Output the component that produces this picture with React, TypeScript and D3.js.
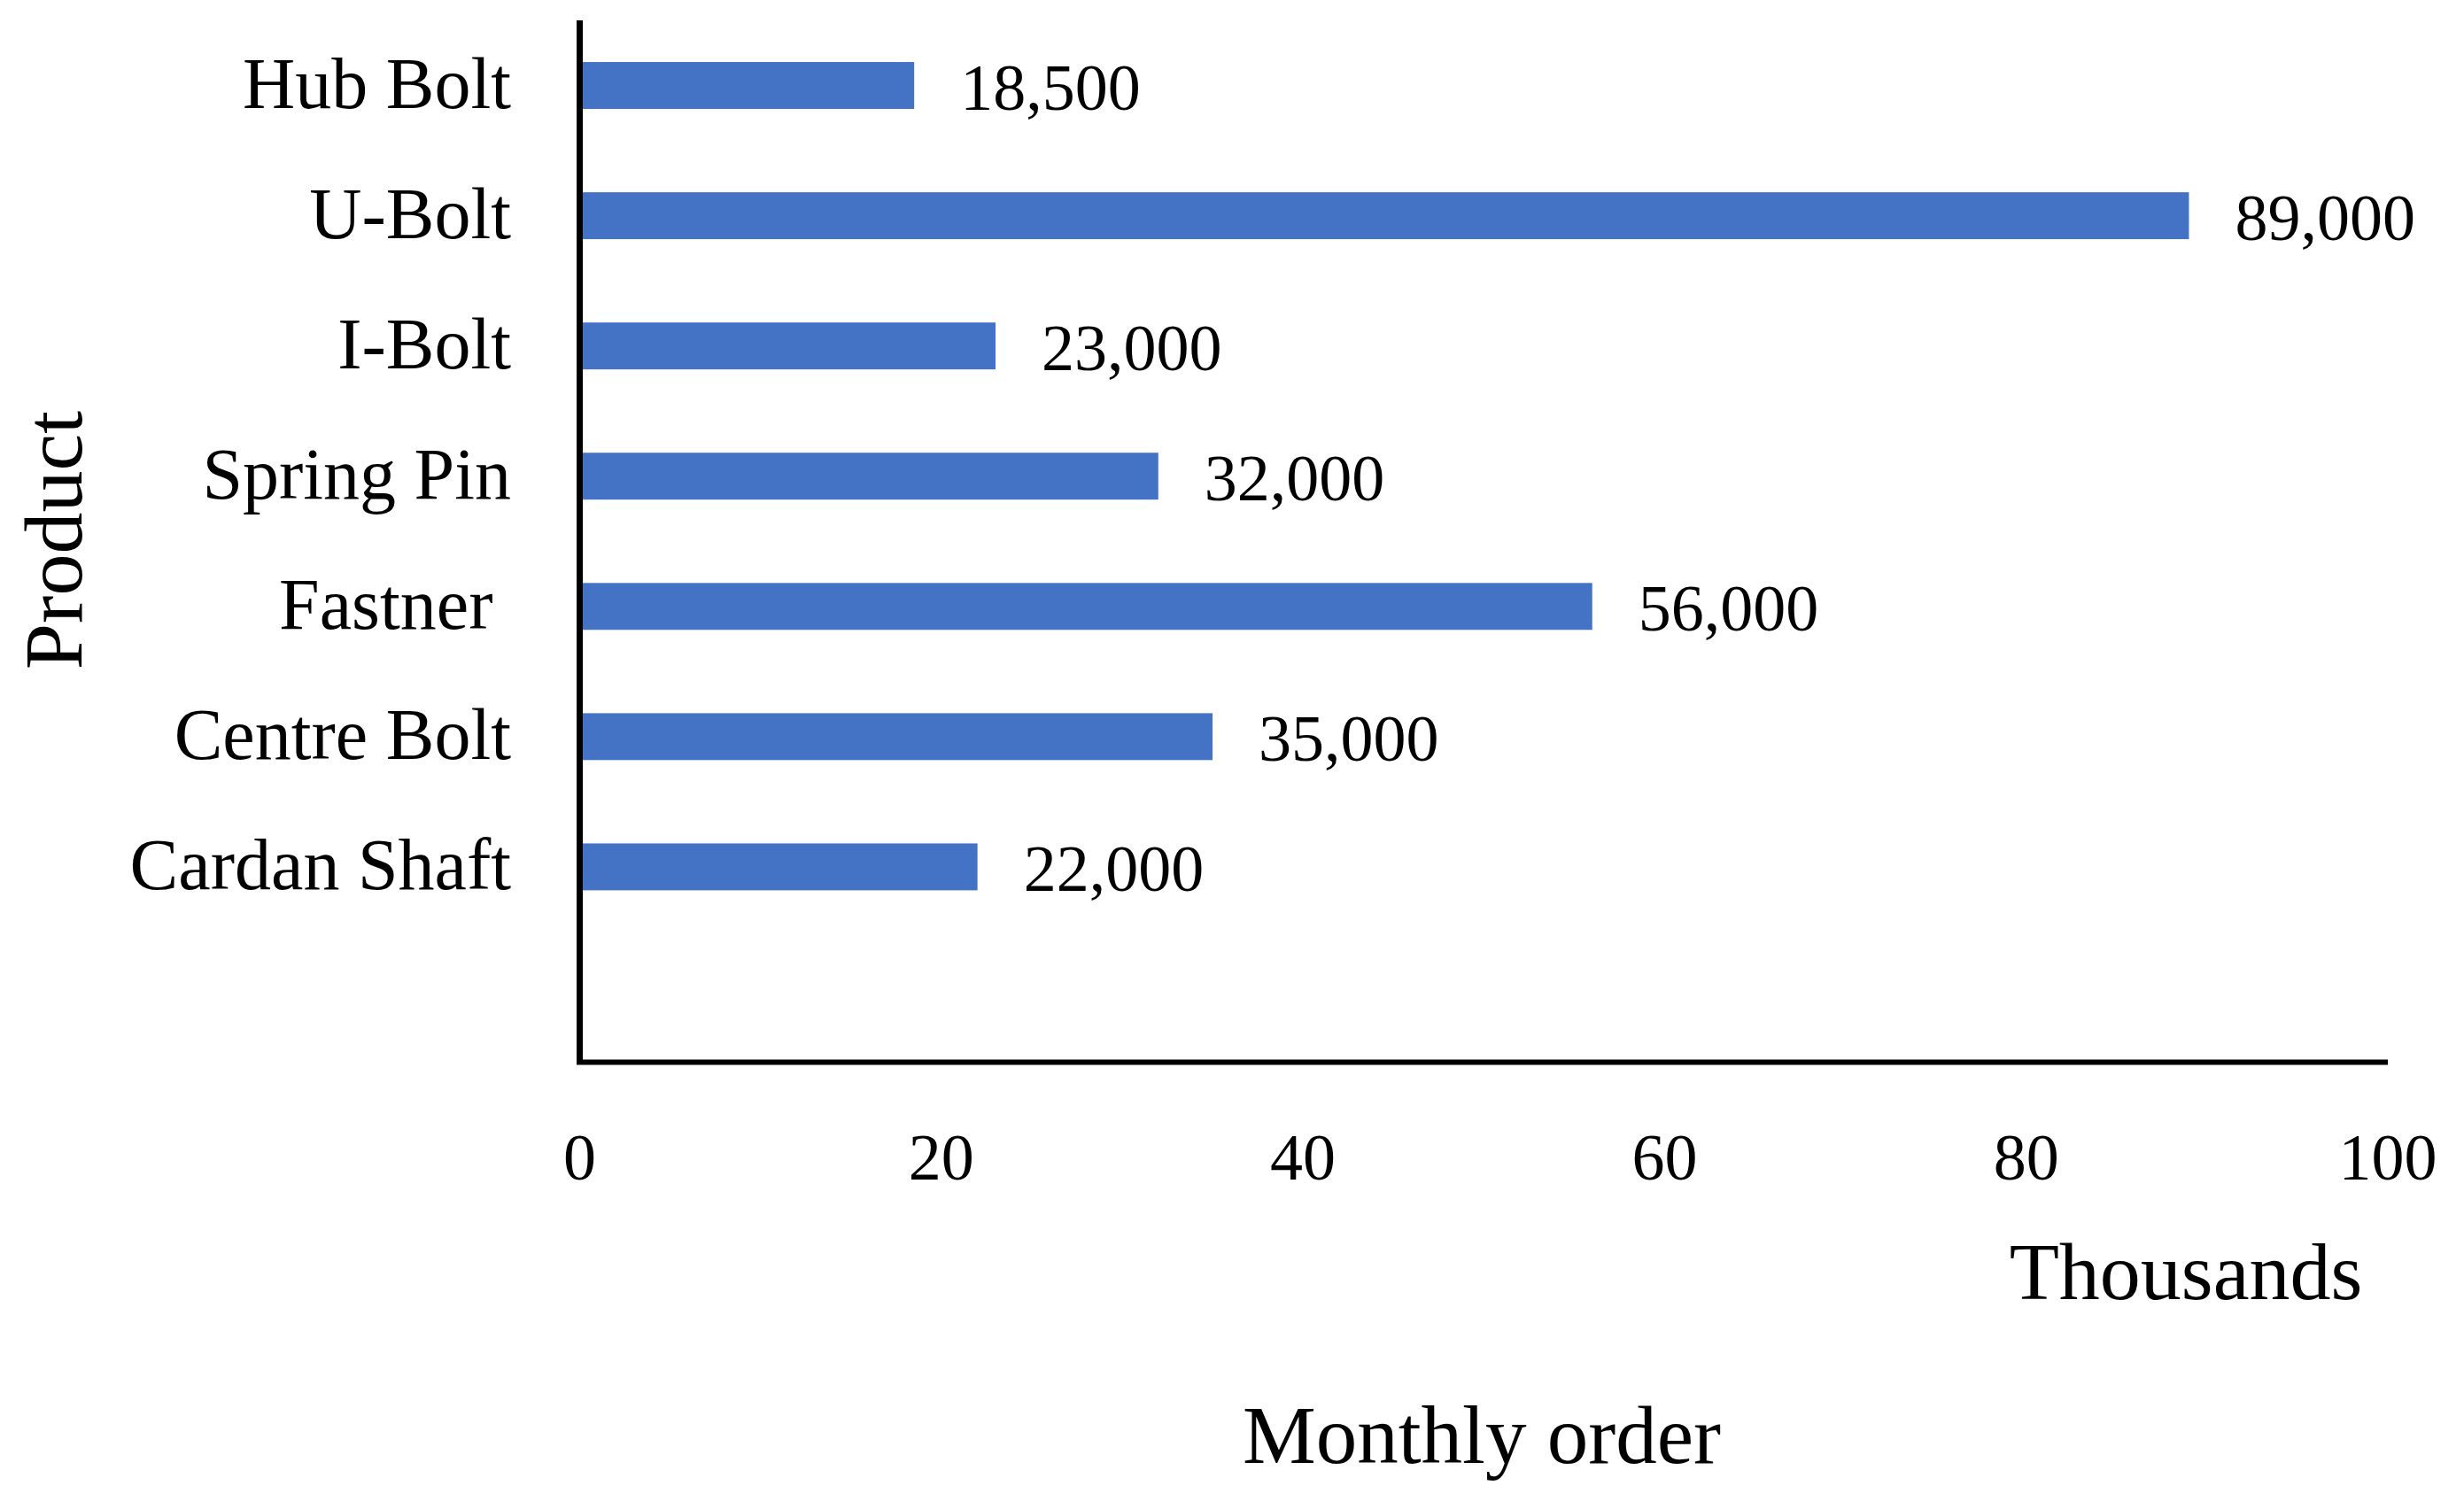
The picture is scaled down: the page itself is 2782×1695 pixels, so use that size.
import React from "react";
import * as d3 from "d3";

const categories = ["Hub Bolt", "U-Bolt", "I-Bolt", "Spring Pin", "Fastner ", "Centre Bolt", "Cardan Shaft"];
const values = [18.5, 89, 23, 32, 56, 35, 22]; // thousands
const xTicks = [0, 20, 40, 60, 80, 100];
const xUnitLabel = "Thousands";
const xTitle = "Monthly order";
const yTitle = "Product";

const W = 2782;
const H = 1695;
const FONT = "'Palatino Linotype', 'Book Antiqua', Palatino, 'Liberation Serif', serif";
const BAR = "#4472C4";

export default function App() {
  const x = d3.scaleLinear().domain([0, 100]).range([654.5, 2696]);
  const y = d3.scaleBand<string>().domain([...categories, "__blank"]).range([23, 1199.5]);
  const bw = y.bandwidth();
  const barH = bw * 0.36;
  const fmt = d3.format(",");

  return (
    <svg width={W} height={H} style={{ position: "absolute", left: 0, top: 0, background: "#fff" }} fontFamily={FONT}>
      <rect x={0} y={0} width={W} height={H} fill="#fff" />
      {categories.map((c, i) => {
        const cy = (y(c) as number) + bw / 2;
        return (
          <g key={c}>
            <rect x={x(0)} y={cy - barH / 2} width={x(values[i]) - x(0)} height={barH} fill={BAR} />
            <text x={x(values[i]) + 52} y={cy + 27} fontSize={74} fill="#000">
              {fmt(values[i] * 1000)}
            </text>
            <text x={577} y={cy + 25} fontSize={82} textAnchor="end" fill="#000" style={{ whiteSpace: "pre" }}>
              {c}
            </text>
          </g>
        );
      })}
      {/* axes */}
      <line x1={x(0)} x2={x(0)} y1={23} y2={1202} stroke="#000" strokeWidth={7} />
      <line x1={651} x2={x(100)} y1={1199.5} y2={1199.5} stroke="#000" strokeWidth={6} />
      {xTicks.map((t) => (
        <text key={t} x={x(t)} y={1332} fontSize={74} textAnchor="middle" fill="#000">
          {t}
        </text>
      ))}
      <text x={2468} y={1467} fontSize={92} textAnchor="middle" fill="#000">
        {xUnitLabel}
      </text>
      <text x={1673} y={1652} fontSize={93} textAnchor="middle" fill="#000">
        {xTitle}
      </text>
      <text transform="translate(92,610) rotate(-90)" fontSize={94} textAnchor="middle" fill="#000">
        {yTitle}
      </text>
    </svg>
  );
}
